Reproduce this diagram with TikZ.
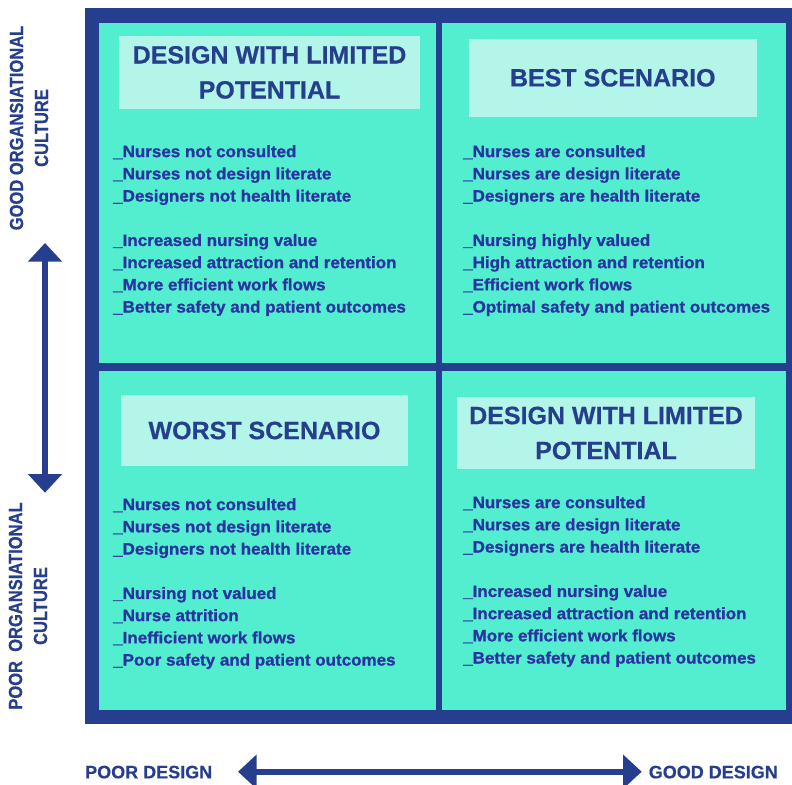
\documentclass[tikz,border=0pt]{standalone}
\usepackage{fontspec}
\setmainfont{Liberation Sans}
\newfontfamily\narrowfont[FakeStretch=0.87,BoldFeatures={FakeBold=0.6}]{Liberation Sans}
\newfontfamily\heavyfont[FakeStretch=1.03,BoldFeatures={FakeBold=1.0}]{Liberation Sans}
\newfontfamily\titlefont[BoldFeatures={FakeBold=0.5}]{Liberation Sans}
\usetikzlibrary{arrows.meta}
\definecolor{frameblue}{HTML}{253F8E}
\definecolor{cellteal}{HTML}{52EECF}
\definecolor{boxmint}{HTML}{B3F5E9}
\definecolor{titleblue}{HTML}{263E8C}
\definecolor{bodyblue}{HTML}{2A33A0}
\tikzset{
  cell/.style={fill=cellteal, draw=none},
  titlebox/.style={fill=boxmint, draw=none, align=center, text=titleblue, inner sep=0pt,
    font=\titlefont\fontsize{25}{35}\selectfont\bfseries},
  bodylist/.style={anchor=north west, align=left, inner sep=0pt, text=bodyblue,
    font=\heavyfont\fontsize{16.5}{22.2}\selectfont\bfseries},
  sidelabel/.style={rotate=90, align=center, text=titleblue, inner sep=0pt,
    font=\narrowfont\fontsize{19}{25}\selectfont\bfseries},
  axislabel/.style={text=titleblue, inner sep=0pt, font=\titlefont\fontsize{18}{20}\selectfont\bfseries},
  bigarrow/.style={frameblue, line width=6pt,
    {Triangle[width=33pt,length=18.5pt]}-{Triangle[width=33pt,length=18.5pt]}}
}
\begin{document}
\begin{tikzpicture}[x=1pt,y=-1pt]
\useasboundingbox (0,0) rectangle (792,784);
% frame and cells
\fill[frameblue] (85,8) rectangle (792,723.5);
\fill[cell] (99,22.7) rectangle (436,363.3);
\fill[cell] (442.3,22.7) rectangle (786,363.3);
\fill[cell] (99,370.7) rectangle (436,710);
\fill[cell] (442.3,370.7) rectangle (786,710);
% titles
\node[titlebox, minimum width=301pt, minimum height=72.7pt] (tlT) at (269.5,72.4) {DESIGN WITH LIMITED\\POTENTIAL};
\node[titlebox, minimum width=287.7pt, minimum height=77.7pt] (trT) at (612.8,77.8) {BEST SCENARIO};
\node[titlebox, minimum width=287pt, minimum height=71pt] (blT) at (264.5,430.5) {WORST SCENARIO};
\node[titlebox, minimum width=298pt, minimum height=72pt] (brT) at (606,433) {DESIGN WITH LIMITED\\POTENTIAL};
% body lists
\node[bodylist] (tlB) at (113,145) {\_Nurses not consulted\\\_Nurses not design literate\\\_Designers not health literate\\[22.2pt]\_Increased nursing value\\\_Increased attraction and retention\\\_More efficient work flows\\\_Better safety and patient outcomes};
\node[bodylist] (trB) at (463,145) {\_Nurses are consulted\\\_Nurses are design literate\\\_Designers are health literate\\[22.2pt]\_Nursing highly valued\\\_High attraction and retention\\\_Efficient work flows\\\_Optimal safety and patient outcomes};
\node[bodylist] (blB) at (113,498) {\_Nurses not consulted\\\_Nurses not design literate\\\_Designers not health literate\\[22.2pt]\_Nursing not valued\\\_Nurse attrition\\\_Inefficient work flows\\\_Poor safety and patient outcomes};
\node[bodylist] (brB) at (463,496) {\_Nurses are consulted\\\_Nurses are design literate\\\_Designers are health literate\\[22.2pt]\_Increased nursing value\\\_Increased attraction and retention\\\_More efficient work flows\\\_Better safety and patient outcomes};
% side labels
\node[sidelabel] (goodC) at (29,128) {GOOD ORGANSIATIONAL\\CULTURE};
\node[sidelabel] (poorC) at (28,606) {POOR~~ORGANSIATIONAL\\CULTURE};
% axis labels
\node[axislabel, anchor=base west] (poorD) at (85,778.3) {POOR DESIGN};
\node[axislabel, anchor=base east] (goodD) at (778,778.3) {GOOD DESIGN};
% arrows
\coordinate (upTip) at (45,243);
\coordinate (downTip) at (45,492.7);
\coordinate (leftTip) at (238,771.7);
\coordinate (rightTip) at (641.7,771.7);
\draw[bigarrow] (upTip) -- (downTip);
\draw[bigarrow] (leftTip) -- (rightTip);
\end{tikzpicture}
\end{document}
